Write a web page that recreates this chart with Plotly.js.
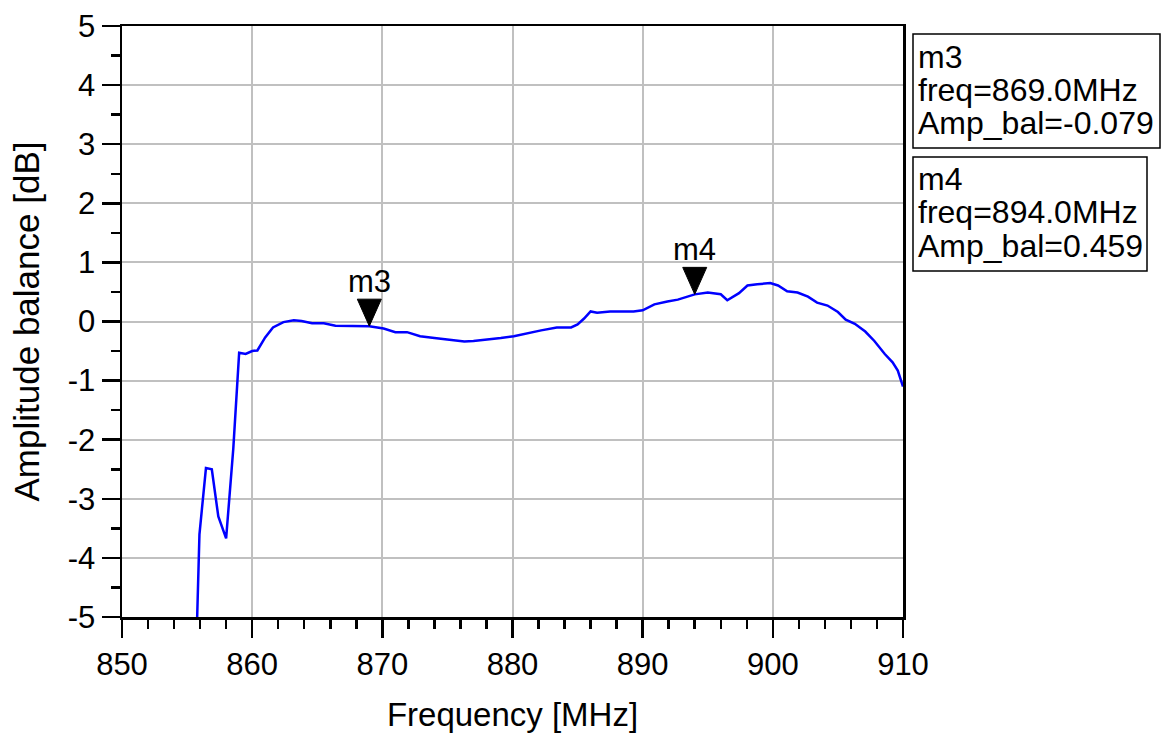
<!DOCTYPE html>
<html>
<head>
<meta charset="utf-8">
<script src="https://cdn.plot.ly/plotly-3.0.1.min.js"></script>
<style>
  html, body { margin: 0; padding: 0; background: #ffffff; }
  #chart { width: 1167px; height: 740px; }
</style>
</head>
<body>
<div id="chart"></div>
<script>
// ---- Data ----
const freqMHz = [
  855.75, 855.95, 856.45, 856.9, 857.4, 858.0, 858.55, 859.0, 859.5, 860.0,
  860.4, 861.0, 861.6, 862.4, 863.2, 863.8, 864.6, 865.5, 866.4, 867.8,
  869.0, 870.1, 871.0, 871.9, 872.9, 874.0, 875.0, 876.3, 877.0, 878.0,
  879.1, 880.1, 881.1, 882.2, 883.4, 884.5, 885.0, 885.5, 886.0, 886.5,
  887.5, 889.3, 890.0, 890.9, 891.9, 892.7, 894.0, 895.0, 896.0, 896.5,
  897.4, 898.05, 898.8, 899.8, 900.4, 901.1, 901.9, 902.7, 903.4, 904.2,
  905.0, 905.6, 906.3, 907.1, 907.8, 908.6, 909.2, 909.6, 910.0
];
const ampBalance = [
  -5.2, -3.6, -2.48, -2.5, -3.3, -3.67, -2.15, -0.53, -0.55, -0.5,
  -0.49, -0.27, -0.1, -0.01, 0.02, 0.01, -0.03, -0.03, -0.07, -0.07,
  -0.079, -0.12, -0.18, -0.18, -0.25, -0.28, -0.31, -0.34, -0.33, -0.31,
  -0.28, -0.25, -0.2, -0.15, -0.1, -0.1, -0.05, 0.05, 0.17, 0.15,
  0.17, 0.17, 0.19, 0.29, 0.34, 0.37, 0.459, 0.49, 0.46, 0.36,
  0.48, 0.61, 0.63, 0.65, 0.61, 0.51, 0.49, 0.42, 0.32, 0.27,
  0.16, 0.03, -0.04, -0.17, -0.33, -0.55, -0.69, -0.83, -1.1
];

const markerNames = ['m3', 'm4'];
const markerFreq = [869.0, 894.0];
const markerAmp = [-0.079, 0.459];

const xTickVals = [850, 860, 870, 880, 890, 900, 910];
const xTickText = ['850', '860', '870', '880', '890', '900', '910'];
const yTickVals = [-5, -4, -3, -2, -1, 0, 1, 2, 3, 4, 5];
const yTickText = ['-5', '-4', '-3', '-2', '-1', '0', '1', '2', '3', '4', '5'];

const xTitle = 'Frequency [MHz]';
const yTitle = 'Amplitude balance [dB]';

// ---- Layout geometry ----
const W = 1167, H = 740;
const M = { l: 122, r: 264, t: 26, b: 123 };
const plotW = W - M.l - M.r;
const plotH = H - M.t - M.b;
const px2x = px => (px - M.l) / plotW;
const py2y = py => (H - M.b - py) / plotH;

const FONT = '"Liberation Sans", Arial, "DejaVu Sans", sans-serif';

const shapes = [];
const annotations = [];

// marker triangles + labels
markerNames.forEach((name, i) => {
  shapes.push({
    type: 'path', xref: 'x', yref: 'y',
    xsizemode: 'pixel', ysizemode: 'pixel',
    xanchor: markerFreq[i], yanchor: markerAmp[i],
    path: 'M-12,27 L12,27 L0,0 Z',
    fillcolor: '#000000', line: { color: '#000000', width: 1 },
    layer: 'above'
  });
  annotations.push({
    xref: 'x', yref: 'y', x: markerFreq[i], y: markerAmp[i],
    text: name, showarrow: false, xanchor: 'center', yanchor: 'bottom',
    yshift: 25, font: { family: FONT, size: 31, color: '#000000' }
  });
});

// marker readout boxes
const boxes = [
  { x0: 913, x1: 1160, y0: 34, y1: 148, baselines: [67, 100, 133] },
  { x0: 913, x1: 1147, y0: 157, y1: 271, baselines: [189, 222, 256] }
];
markerNames.forEach((name, i) => {
  const b = boxes[i];
  shapes.push({
    type: 'rect', xref: 'paper', yref: 'paper',
    x0: px2x(b.x0), x1: px2x(b.x1), y0: py2y(b.y1), y1: py2y(b.y0),
    line: { color: '#000000', width: 1.5 }, fillcolor: 'rgba(0,0,0,0)'
  });
  const lines = [
    name,
    'freq=' + markerFreq[i].toFixed(1) + 'MHz',
    'Amp_bal=' + markerAmp[i].toFixed(3)
  ];
  lines.forEach((t, k) => {
    annotations.push({
      xref: 'paper', yref: 'paper',
      x: px2x(916), y: py2y(b.baselines[k] - 10),
      xanchor: 'left', yanchor: 'middle',
      text: t, showarrow: false,
      font: { family: FONT, size: 32, color: '#000000' }
    });
  });
});

const trace = {
  type: 'scatter', mode: 'lines',
  x: freqMHz, y: ampBalance,
  line: { color: '#0000ff', width: 2.5 },
  hoverinfo: 'x+y', showlegend: false
};

const axisCommon = {
  showline: true, linecolor: '#000000', linewidth: 2.5, mirror: true,
  ticks: 'outside', ticklen: 18, tickwidth: 2.5, tickcolor: '#000000',
  showgrid: true, gridcolor: '#c0c0c0', gridwidth: 2,
  zeroline: false, fixedrange: true,
  tickfont: { family: FONT, size: 31, color: '#000000' }
};

const layout = {
  width: W, height: H,
  margin: M,
  paper_bgcolor: '#ffffff', plot_bgcolor: '#ffffff',
  showlegend: false,
  font: { family: FONT, color: '#000000' },
  xaxis: Object.assign({}, axisCommon, {
    range: [850, 910], tickmode: 'array', tickvals: xTickVals, ticktext: xTickText,
    minor: { dtick: 2, ticklen: 9, tickwidth: 2.5, tickcolor: '#000000', ticks: 'outside', showgrid: false },
    title: { text: xTitle, font: { family: FONT, size: 33, color: '#000000' }, standoff: 22 }
  }),
  yaxis: Object.assign({}, axisCommon, {
    range: [-5, 5], tickmode: 'array', tickvals: yTickVals, ticktext: yTickText,
    minor: { dtick: 0.5, ticklen: 9, tickwidth: 2.5, tickcolor: '#000000', ticks: 'outside', showgrid: false },
    title: { text: yTitle, font: { family: FONT, size: 35, color: '#000000' }, standoff: 18 }
  }),
  shapes: shapes,
  annotations: annotations
};

Plotly.newPlot('chart', [trace], layout, { displayModeBar: false, staticPlot: true });
</script>
</body>
</html>
